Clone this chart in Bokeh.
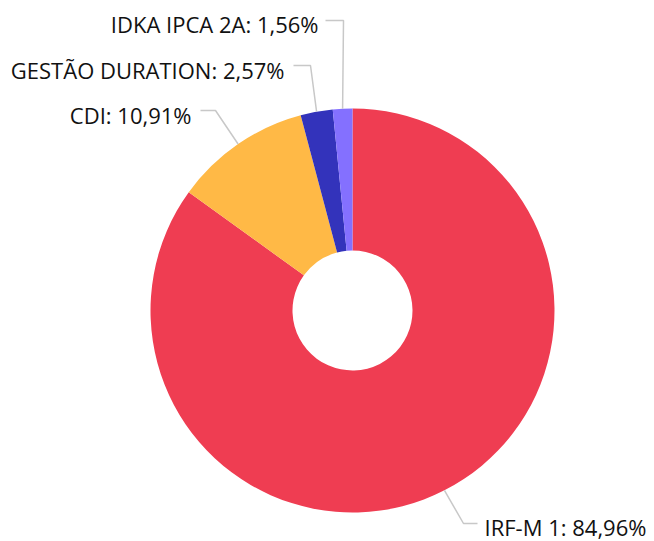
import math
from bokeh.plotting import figure
from bokeh.models import Range1d, ColumnDataSource
from bokeh.core.properties import value
from bokeh.embed import file_html
from bokeh.resources import INLINE

# ---- data ----
categories = ["IRF-M 1", "CDI", "GESTÃO DURATION", "IDKA IPCA 2A"]
shares = [84.96, 10.91, 2.57, 1.56]
colors = ["#EF3D52", "#FFB946", "#3333BB", "#8470FF"]

# ---- layout ----
W, H = 654, 541
PAGE_H = 541
cx, cy_page = 352, 310
R_OUT, R_IN = 202, 60
# label elbow / end points (page coords) and text anchor per slice
elbows = [(463, 523), (215, 110), (310, 65), (343, 20)]
ends = [(477, 523), (200, 110), (293, 65), (325, 20)]
text_pos = [(484, 526), (191, 114), (284, 69), (318, 23)]
text_align = ["left", "right", "right", "right"]

def Y(yp):
    return PAGE_H - yp

p = figure(width=W, height=H, output_backend="svg", toolbar_location=None,
           x_range=Range1d(0, W), y_range=Range1d(PAGE_H - H, PAGE_H),
           min_border=0, outline_line_color=None)
p.axis.visible = False
p.grid.visible = False
p.background_fill_color = "white"
p.border_fill_color = "white"

total = sum(shares)
cum = 0.0
starts, endsA, mids = [], [], []
for s in shares:
    a0 = cum / total
    a1 = (cum + s) / total
    cum += s
    # clockwise from top
    starts.append(math.pi / 2 - a1 * 2 * math.pi)
    endsA.append(math.pi / 2 - a0 * 2 * math.pi)
    mids.append(math.pi / 2 - (a0 + a1) / 2 * 2 * math.pi)

src = ColumnDataSource(dict(start=starts, end=endsA, color=colors))
p.annular_wedge(x=cx, y=Y(cy_page), inner_radius=R_IN, outer_radius=R_OUT,
                inner_radius_units="screen", outer_radius_units="screen",
                start_angle="start", end_angle="end", fill_color="color",
                line_color=None, source=src)

for i, name in enumerate(categories):
    m = mids[i]
    sx = cx + R_OUT * math.cos(m)
    sy = Y(cy_page) + R_OUT * math.sin(m)
    ex, ey = elbows[i]
    fx, fy = ends[i]
    p.line([sx, ex, fx], [sy, Y(ey), Y(fy)], line_color="#C8C8C8", line_width=1.5)
    label = f"{name}: {shares[i]:.2f}%".replace(".", ",")
    tx, ty = text_pos[i]
    p.text(x=[tx], y=[Y(ty)], text=[label], text_font=value("Open Sans"),
           text_font_size="22px", text_color="#111111", text_align=text_align[i],
           text_baseline="middle")

open("out.html", "w").write(file_html(p, INLINE))
